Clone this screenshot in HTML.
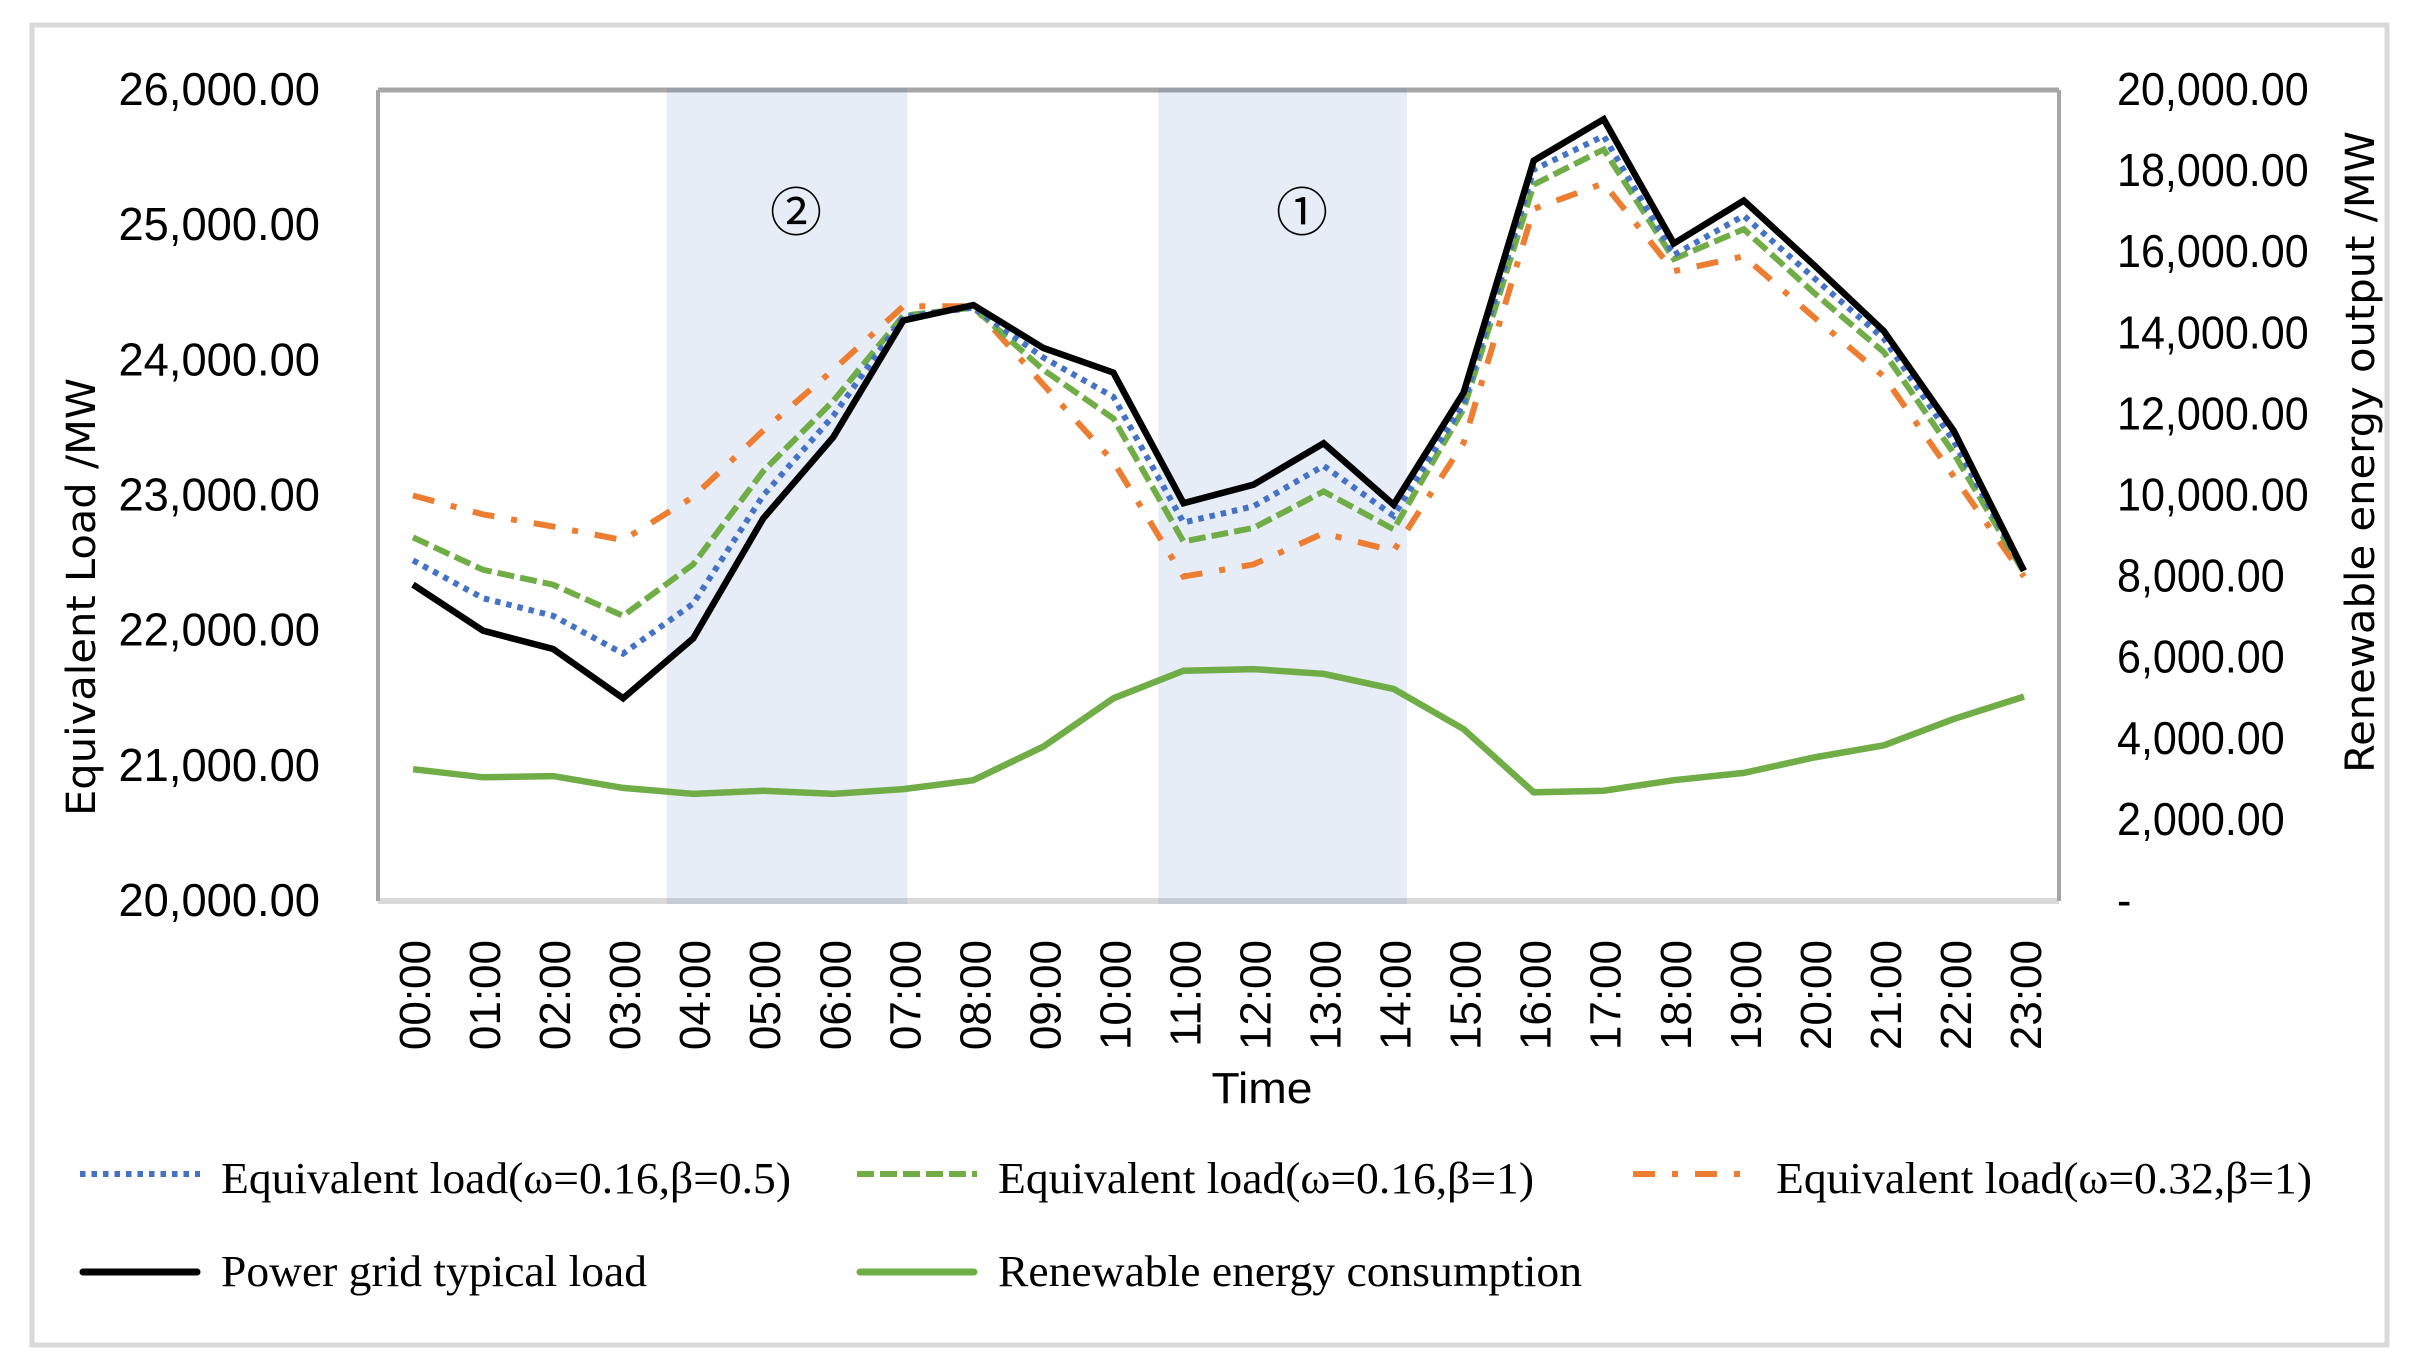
<!DOCTYPE html>
<html>
<head>
<meta charset="utf-8">
<title>Equivalent load chart</title>
<style>
html,body{margin:0;padding:0;background:#fff;}
svg{display:block;}
.num{font-family:"Liberation Sans",sans-serif;fill:#000;}
.leg{font-family:"Liberation Serif","DejaVu Serif",serif;font-size:44px;fill:#000;}
.ttl{font-family:"DejaVu Sans","Liberation Sans",sans-serif;font-size:40px;fill:#000;}
</style>
</head>
<body>
<svg id="chart" xmlns="http://www.w3.org/2000/svg" width="2409" height="1371" viewBox="0 0 2409 1371">
  <rect x="32" y="25" width="2355" height="1320" fill="#fff" stroke="#d9d9d9" stroke-width="5"/>
  <g id="axes"></g>
  <g id="bands"></g>
  <g id="series"></g>
  <g id="ticks"></g>
  <text x="796" y="231" text-anchor="middle" font-family="'Liberation Sans','Noto Sans CJK JP',sans-serif" font-size="52">②</text>
  <text x="1302" y="231" text-anchor="middle" font-family="'Liberation Sans','Noto Sans CJK JP',sans-serif" font-size="52">①</text>
  <text class="ttl" transform="translate(95,597) rotate(-90)" text-anchor="middle" textLength="438" lengthAdjust="spacingAndGlyphs">Equivalent Load /MW</text>
  <text class="ttl" transform="translate(2374,452) rotate(-90)" text-anchor="middle" textLength="642" lengthAdjust="spacingAndGlyphs">Renewable energy output /MW</text>
  <text class="num" x="1262" y="1103" font-size="44" text-anchor="middle" textLength="101" lengthAdjust="spacingAndGlyphs">Time</text>
  <g>
    <g>
      <line x1="80" x2="200" y1="1174" y2="1174" stroke="#4472c4" stroke-width="6" stroke-dasharray="5.5 6"/>
      <text class="leg" x="221" y="1193" textLength="570" lengthAdjust="spacingAndGlyphs">Equivalent load(ω=0.16,β=0.5)</text>
    </g>
    <g>
      <line x1="857" x2="977" y1="1174" y2="1174" stroke="#70ad47" stroke-width="6" stroke-dasharray="17 6"/>
      <text class="leg" x="998" y="1193" textLength="536" lengthAdjust="spacingAndGlyphs">Equivalent load(ω=0.16,β=1)</text>
    </g>
    <g>
      <line x1="1633" x2="1747" y1="1174" y2="1174" stroke="#ed7d31" stroke-width="6" stroke-dasharray="22 17 6 17"/>
      <text class="leg" x="1776" y="1193" textLength="536" lengthAdjust="spacingAndGlyphs">Equivalent load(ω=0.32,β=1)</text>
    </g>
    <g>
      <line x1="83" x2="197" y1="1272" y2="1272" stroke="#000" stroke-width="7" stroke-linecap="round"/>
      <text class="leg" x="221" y="1286" textLength="426" lengthAdjust="spacingAndGlyphs">Power grid typical load</text>
    </g>
    <g>
      <line x1="860" x2="974" y1="1272" y2="1272" stroke="#70ad47" stroke-width="7" stroke-linecap="round"/>
      <text class="leg" x="998" y="1286" textLength="584" lengthAdjust="spacingAndGlyphs">Renewable energy consumption</text>
    </g>
  </g>
</svg>
<script>
const categories = ["00:00","01:00","02:00","03:00","04:00","05:00","06:00","07:00","08:00","09:00","10:00","11:00","12:00","13:00","14:00","15:00","16:00","17:00","18:00","19:00","20:00","21:00","22:00","23:00"];
const loadBlue = [22520,22240,22110,21830,22200,23000,23590,24320,24390,24020,23730,22800,22920,23220,22850,23680,25410,25660,24780,25070,24610,24160,23400,22440];
const loadGreen = [22690,22450,22340,22110,22490,23180,23700,24330,24390,23930,23570,22660,22760,23030,22750,23640,25300,25560,24750,24970,24500,24060,23310,22430];
const loadOrange = [23000,22860,22770,22670,22990,23480,23930,24400,24400,23820,23250,22400,22490,22720,22590,23390,25120,25310,24660,24770,24320,23880,23140,22400];
const loadTypical = [22341,22000,21864,21500,21943,22830,23432,24295,24409,24091,23909,22943,23080,23386,22932,23761,25477,25784,24864,25182,24705,24216,23477,22443];
const renewable = [3250,3050,3080,2790,2640,2720,2640,2760,2980,3810,5000,5680,5720,5600,5230,4240,2680,2720,2980,3160,3540,3840,4490,5040];
const leftTicks = [20000,21000,22000,23000,24000,25000,26000];
const rightTicks = [0,2000,4000,6000,8000,10000,12000,14000,16000,18000,20000];
const highlightStart = [3.62,10.64];
const highlightEnd = [7.06,14.19];

const NS = "http://www.w3.org/2000/svg";
const plotLeft = 378, plotRight = 2059, plotTop = 90, plotBottom = 901;
const step = (plotRight - plotLeft) / categories.length;
const xAt = i => plotLeft + step * (i + 0.5);
const yLeft = v => plotBottom - (v - leftTicks[0]) / (leftTicks[leftTicks.length-1] - leftTicks[0]) * (plotBottom - plotTop);
const yRight = v => plotBottom - (v - rightTicks[0]) / (rightTicks[rightTicks.length-1] - rightTicks[0]) * (plotBottom - plotTop);
const fmt = v => v.toLocaleString("en-US", {minimumFractionDigits:2, maximumFractionDigits:2});
function mk(tag, parent, props, text) {
  const e = document.createElementNS(NS, tag);
  for (const k in props) e.setAttribute(k, props[k]);
  if (text !== undefined) e.textContent = text;
  document.getElementById(parent).appendChild(e);
  return e;
}

let el;
el = mk("line","axes",{x1:plotLeft,x2:plotRight,y1:plotBottom,y2:plotBottom,stroke:"#d9d9d9","stroke-width":6});


el = mk("line","axes",{x1:plotLeft,x2:plotRight,y1:plotTop,y2:plotTop,stroke:"#a6a6a6","stroke-width":5});


el = mk("line","axes",{x1:plotLeft,x2:plotLeft,y1:plotTop,y2:plotBottom,stroke:"#a6a6a6","stroke-width":4});


el = mk("line","axes",{x1:plotRight,x2:plotRight,y1:plotTop,y2:plotBottom,stroke:"#a6a6a6","stroke-width":4});



highlightStart.forEach((s, i) => {
  const x0 = xAt(s), x1 = xAt(highlightEnd[i]);
  const band = mk("rect","bands",{x:x0,y:plotTop-2,width:x1-x0,height:plotBottom-plotTop+5,fill:"#4472c4","fill-opacity":0.13});
  
  
});

function drawLine(values, yFn, color, width, dash) {
  const pts = values.map((v, i) => xAt(i).toFixed(1) + "," + yFn(v).toFixed(1)).join(" ");
  const props = {points:pts,fill:"none",stroke:color,"stroke-width":width,"stroke-linejoin":"miter"};
  if (dash) props["stroke-dasharray"] = dash;
  return mk("polyline","series",props);
}
let ln;
ln = drawLine(renewable, yRight, "#70ad47", 6.5);


ln = drawLine(loadOrange, yLeft, "#ed7d31", 6, "22 17 6 17");


ln = drawLine(loadGreen, yLeft, "#70ad47", 6, "17 6");


ln = drawLine(loadBlue, yLeft, "#4472c4", 6, "5.5 6");


ln = drawLine(loadTypical, yLeft, "#000", 6.5);



leftTicks.forEach(v => {
  const t = mk("text","ticks",{class:"num",transform:"translate(320,"+(yLeft(v)+15).toFixed(1)+") scale(0.985,1)","font-size":46,"text-anchor":"end"}, fmt(v));
  
  
});
rightTicks.forEach(v => {
  const t = mk("text","ticks",{class:"num",transform:"translate(2117,"+(yRight(v)+15).toFixed(1)+") scale(0.937,1)","font-size":46}, v === 0 ? "-" : fmt(v));
  
  
});
categories.forEach((c, i) => {
  const t = mk("text","ticks",{class:"num",transform:"translate("+(xAt(i)+17).toFixed(1)+",940) rotate(-90)","font-size":44,"text-anchor":"end"}, c);
  
  
});
</script>
</body>
</html>
